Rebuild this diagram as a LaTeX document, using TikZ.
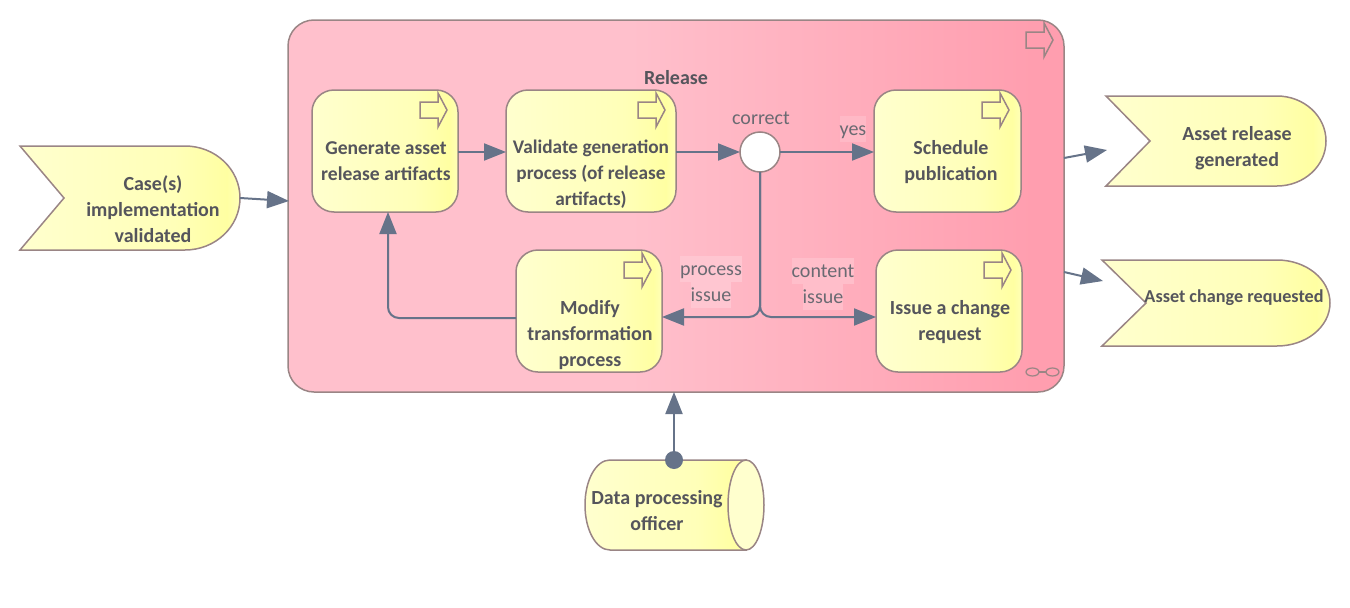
\documentclass[tikz,border=0pt]{standalone}
\usepackage{fontspec}
\setmainfont{Carlito}
\usetikzlibrary{arrows.meta,calc,shapes.geometric}
\definecolor{edgec}{HTML}{667389}
\definecolor{linec}{HTML}{9A8585}
\definecolor{txtc}{HTML}{55555C}
\definecolor{lblc}{HTML}{6A6A72}
\definecolor{yA}{HTML}{FFFFCE}
\definecolor{yB}{HTML}{FFFFB8}
\definecolor{yC}{HTML}{FFFFA2}
\definecolor{pA}{HTML}{FFC0CC}
\definecolor{pB}{HTML}{FF9EAF}
\definecolor{pY}{HTML}{FFB9C6}
\definecolor{pP}{HTML}{FFC6D1}
\definecolor{pC}{HTML}{FFBECA}
\pgfdeclarehorizontalshading{yellowgrad}{100bp}{color(0bp)=(yA); color(25bp)=(yA); color(60bp)=(yB); color(72bp)=(yC); color(75bp)=(yB); color(100bp)=(yB)}
\pgfdeclarehorizontalshading{pinkgrad}{100bp}{color(0bp)=(pA); color(25bp)=(pA); color(47bp)=(pA); color(73bp)=(pB); color(75bp)=(pB); color(100bp)=(pB)}
\tikzset{
  outl/.style={draw=linec,line width=1.5pt,outer sep=0pt},
  procbox/.style={outl,rectangle,rounded corners=22pt,shading=yellowgrad,inner sep=0pt,anchor=north west},
  bold/.style={font=\fontsize{20}{26}\selectfont\bfseries,text=txtc,align=center,inner sep=0pt},
  lbl/.style={font=\fontsize{20}{26}\selectfont,text=lblc,align=center,inner sep=0pt},
  flow/.style={draw=edgec,line width=2pt,-{Triangle[length=22pt,width=17pt]}},
  iconshape/.style={draw=linec,line width=1.5pt,line join=miter},
}
\newcommand{\procicon}[2]{% tip x, tip y
  \draw[iconshape] (#1-27,#2-8) -- (#1-9,#2-8) -- (#1-9,#2-17) -- (#1,#2) -- (#1-9,#2+17) -- (#1-9,#2+8) -- (#1-27,#2+8) -- cycle;}
\newcommand{\eventshape}[6]{% left, notch, straight end, right, top, bottom
  \path[outl,shading=yellowgrad,line join=miter]
   (#1,#5) -- (#3,#5)
   .. controls ($(#3,#5)!0.5523!(#4,#5)$) and ($(#4,#5)!0.2238!(#4,#6)$) .. ($(#4,#5)!0.5!(#4,#6)$)
   .. controls ($(#4,#5)!0.7762!(#4,#6)$) and ($(#3,#6)!0.5523!(#4,#6)$) .. (#3,#6)
   -- (#1,#6) -- ($(#2,#5)!0.5!(#2,#6)$) -- cycle;}
\newcommand{\hlbox}[2]{\colorbox{#1}{\rule[-7pt]{0pt}{26pt}#2}}
\begin{document}
\begin{tikzpicture}[x=1pt,y=-1pt]
\useasboundingbox (0,0) rectangle (1350,608);
% Release container
\node[outl,rectangle,rounded corners=26pt,shading=pinkgrad,inner sep=0pt,anchor=north west,minimum width=776pt,minimum height=372pt] (release) at (288,20) {};
\procicon{1053}{40}
\draw[draw=linec,line width=1.2pt] (1032.5,372) ellipse (6.5pt and 4pt);
\draw[draw=linec,line width=1.2pt] (1052.5,372) ellipse (6.5pt and 4pt);
\draw[draw=linec,line width=1.2pt] (1039,372) -- (1046,372);
\node[bold] (releaselbl) at (676,78) {Release};
% process boxes
\node[procbox,minimum width=146pt,minimum height=122pt] (gen) at (312,90) {};
\node[procbox,minimum width=170pt,minimum height=122pt] (val) at (506,90) {};
\node[procbox,minimum width=147pt,minimum height=122pt] (sched) at (874,90) {};
\node[procbox,minimum width=146pt,minimum height=122pt] (mod) at (516,250) {};
\node[procbox,minimum width=146pt,minimum height=122pt] (issue) at (876,250) {};
\procicon{447}{110}
\procicon{665}{110}
\procicon{1009}{110}
\procicon{651}{270}
\procicon{1011}{270}
\node[bold,font=\fontsize{19.6}{26}\selectfont\bfseries] (gentxt) at (386,161) {Generate asset\\release artifacts};
\node[bold,font=\fontsize{19.3}{26}\selectfont\bfseries] (valtxt) at (591,174.5) {Validate generation\\process (of release\\artifacts)};
\node[bold] (schedtxt) at (951,162) {Schedule\\publication};
\node[bold] (modtxt) at (590,335) {Modify\\transformation\\process};
\node[bold] (issuetxt) at (950,322) {Issue a change\\request};
% gateway
\node[outl,circle,fill=white,minimum size=40pt,inner sep=0pt] (gate) at (760,152) {};
\node[lbl] (gatelbl) at (761,118) {correct};
% events
\eventshape{20}{64}{185}{240}{146}{250}
\node[bold] (casetxt) at (153,209) {Case(s)\\implementation\\validated};
\eventshape{1106}{1150}{1277}{1326}{96}{186}
\node[bold] (reltxt) at (1237,148) {Asset release\\generated};
\eventshape{1102}{1146}{1277}{1330}{260}{346}
\node[bold,font=\fontsize{18.2}{26}\selectfont\bfseries] (chgtxt) at (1234,298) {Asset change requested};
% actor
\path[outl,shading=yellowgrad] (610,460) -- (746,460) -- (746,550) -- (610,550)
  .. controls (596,550) and (585,530) .. (585,505) .. controls (585,480) and (596,460) .. (610,460) -- cycle;
\node[outl,ellipse,fill=yA,minimum width=36pt,minimum height=90pt,inner sep=0pt] (actorcap) at (746,505) {};
\node[bold] (actortxt) at (657,511) {Data processing\\officer};
% connectors
\draw[flow] (gen.east |- gate) -- (val.west |- gate);
\draw[flow] (val.east |- gate) -- (gate.west);
\draw[flow] (gate.east) -- (sched.west |- gate);
\coordinate (branchL) at (760,317);
\draw[flow,rounded corners=11pt] (gate.south) -- (branchL) -- (mod.east |- branchL);
\draw[flow,rounded corners=11pt] (gate.south) -- (branchL) -- (issue.west |- branchL);
\coordinate (backcorner) at (388,318);
\draw[flow,rounded corners=11pt] (mod.west |- backcorner) -- (backcorner) -- (gen.south -| backcorner);
\coordinate (caseout) at (240,198);
\coordinate (relin) at (289,201);
\draw[flow] (caseout) -- (relin);
\coordinate (relout) at (1064,158);
\coordinate (assetin) at (1107,150);
\draw[flow] (relout) -- (assetin);
\coordinate (relout2) at (1064,272);
\coordinate (changein) at (1103,281);
\draw[flow] (relout2) -- (changein);
\node[circle,fill=edgec,minimum size=18pt,inner sep=0pt] (actordot) at (674,460) {};
\draw[flow] (actordot) -- (674,392);
% labels
\setlength{\fboxsep}{0pt}
\node[lbl] (yeslbl) at (853,129) {\hlbox{pY}{yes}};
\node[lbl] (proclbl) at (711,282) {\hlbox{pP}{process}\\\hlbox{pP}{issue}};
\node[lbl] (contlbl) at (823,284) {\hlbox{pC}{content}\\\hlbox{pC}{issue}};
\end{tikzpicture}
\end{document}
